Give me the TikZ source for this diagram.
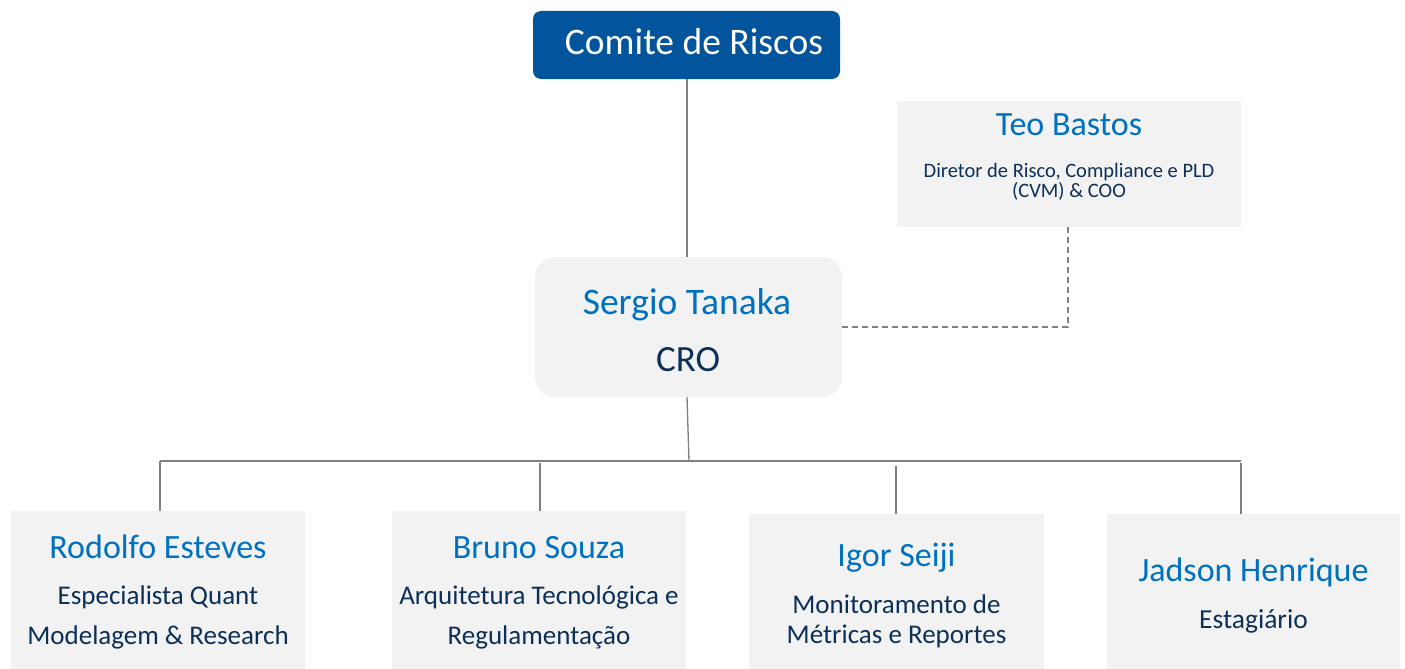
\documentclass[tikz,border=0pt]{standalone}
\usepackage{fontspec}
\setmainfont{Carlito}
\definecolor{comblue}{RGB}{2,84,156}
\definecolor{namblue}{RGB}{0,112,192}
\definecolor{subnavy}{RGB}{12,48,88}
\definecolor{boxgray}{RGB}{242,242,242}
\definecolor{linegray}{RGB}{128,128,128}
\begin{document}
\begin{tikzpicture}[x=1pt,y=-1pt,
  graybox/.style={fill=boxgray,draw=none,inner sep=0pt,outer sep=0pt},
  conn/.style={draw=linegray,line width=1.3pt},
  dashconn/.style={draw=linegray,line width=1.3pt,dash pattern=on 6pt off 4pt},
  nm/.style={anchor=base,inner sep=0pt,text=namblue,font=\fontsize{34}{38}\selectfont},
  sb/.style={anchor=base,inner sep=0pt,text=subnavy,font=\fontsize{27}{32}\selectfont},
]
\useasboundingbox (0,0) rectangle (1405,669);
% boxes
\node[fill=comblue,rounded corners=8pt,inner sep=0pt,minimum width=307pt,minimum height=68pt] (com) at (686.5,45) {};
\node[graybox,minimum width=344pt,minimum height=126pt] (teo) at (1069,164) {};
\node[graybox,rounded corners=20pt,minimum width=307pt,minimum height=140pt] (ser) at (688.5,327) {};
\node[graybox,minimum width=294pt,minimum height=158pt] (rod) at (158,590) {};
\node[graybox,minimum width=294pt,minimum height=158pt] (bru) at (539,590) {};
\node[graybox,minimum width=295pt,minimum height=155pt] (igo) at (896.5,591.5) {};
\node[graybox,minimum width=293pt,minimum height=155pt] (jad) at (1253.5,591.5) {};
% texts
\node[anchor=base,inner sep=0pt,text=white,font=\fontsize{37.5}{40}\selectfont] (comt) at (694,55) {Comite de Riscos};
\node[nm,font=\fontsize{34}{38}\selectfont] (teon) at (1069,135.7) {Teo Bastos};
\node[sb,font=\fontsize{20.5}{24}\selectfont] (teos1) at (1069,177) {Diretor de Risco, Compliance e PLD};
\node[sb,font=\fontsize{20.5}{24}\selectfont] (teos2) at (1069,197) {(CVM) \& COO};
\node[nm,font=\fontsize{37.5}{40}\selectfont] (sern) at (687,314) {Sergio Tanaka};
\node[sb,font=\fontsize{37}{40}\selectfont] (sers) at (688,371) {CRO};
\node[nm] (rodn) at (158,558) {Rodolfo Esteves};
\node[sb] (rods1) at (158,604) {Especialista Quant};
\node[sb] (rods2) at (158,644) {Modelagem \& Research};
\node[nm] (brun) at (539,558) {Bruno Souza};
\node[sb] (brus1) at (539,604) {Arquitetura Tecnológica e};
\node[sb] (brus2) at (539,644) {Regulamentação};
\node[nm] (igon) at (896.5,566.7) {Igor Seiji};
\node[sb,font=\fontsize{27}{30}\selectfont] (igos1) at (896.5,613.3) {Monitoramento de};
\node[sb,font=\fontsize{27}{30}\selectfont] (igos2) at (896.5,643) {Métricas e Reportes};
\node[nm] (jadn) at (1253.5,581.7) {Jadson Henrique};
\node[sb,font=\fontsize{27.5}{30}\selectfont] (jads1) at (1253.5,628.3) {Estagiário};
% connectors
\coordinate (busl) at (160,461);
\coordinate (busr) at (1241,461);
\coordinate (d2) at (540,463);
\coordinate (d3) at (896,466);
\coordinate (d4) at (1241,463);
\coordinate (bm) at (689,461);
\draw[conn] (com.south -| 687,0) -- (687,257);
\draw[dashconn] (teo.south -| 1068,0) |- (ser.east);
\draw[conn] (687,397) -- (bm);
\draw[conn] (busl) -- (busr);
\draw[conn] (busl) -- (busl |- rod.north);
\draw[conn] (d2) -- (d2 |- bru.north);
\draw[conn] (d3) -- (d3 |- igo.north);
\draw[conn] (d4) -- (d4 |- jad.north);
\end{tikzpicture}
\end{document}
